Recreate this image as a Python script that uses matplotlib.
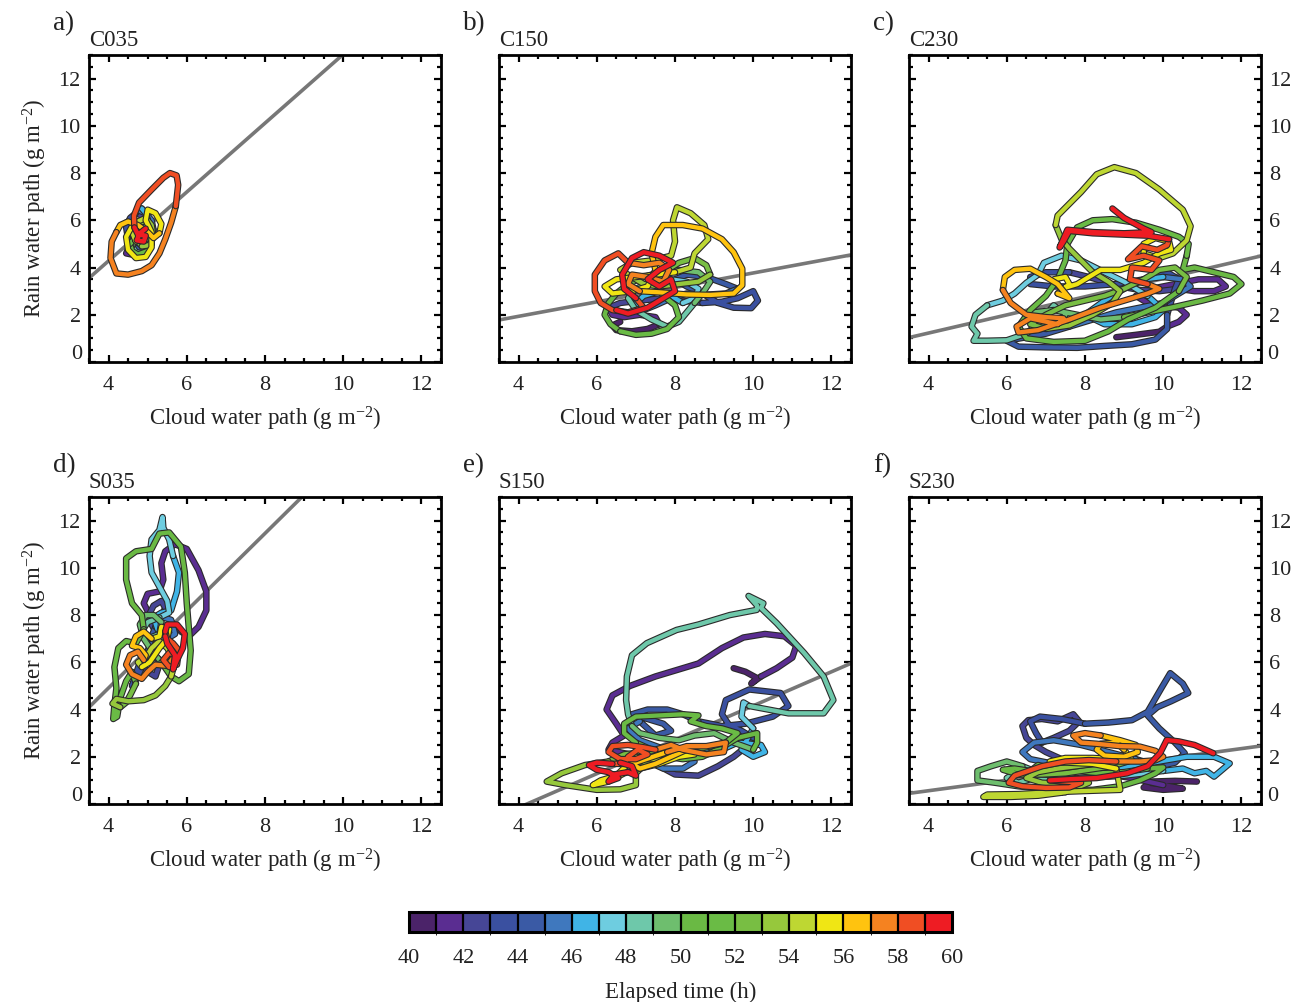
import numpy as np
import matplotlib
matplotlib.use("Agg")
import matplotlib.pyplot as plt
import matplotlib.patheffects as pe
from matplotlib.colors import ListedColormap, BoundaryNorm
from matplotlib.ticker import MultipleLocator

plt.rcParams['font.family'] = ['Liberation Serif', 'DejaVu Serif']
plt.rcParams['mathtext.fontset'] = 'custom'
plt.rcParams['mathtext.rm'] = 'Liberation Serif'
plt.rcParams['mathtext.it'] = 'Liberation Serif:italic'

# ---------------- data ----------------
hour_colors = ['#4B2369', '#5A2D91', '#464696', '#3A50A0', '#3A5AA5', '#3F78BE',
               '#40B4E6', '#6ECDE0', '#6EC8AA', '#6EBE6E', '#6AB944', '#6ABB45',
               '#78BE43', '#96C83C', '#BED732', '#F0E614', '#FFC30F', '#F58220',
               '#F04E23', '#EE1C23']
time_ticks = [40, 42, 44, 46, 48, 50, 52, 54, 56, 58, 60]
panel_tags = ['a)', 'b)', 'c)', 'd)', 'e)', 'f)']
panel_names = ['C035', 'C150', 'C230', 'S035', 'S150', 'S230']
# regression line (slope, intercept) of RWP vs CWP
fit_slope = [1.458, 0.306, 0.384, 1.636, 0.719, 0.223]
fit_icept = [-1.55, 0.71, -0.31, -1.63, -3.03, -0.33]

# trajectories: (hour bin, CWP, RWP)
c035 = [
    (40, 4.75, 5.3), (40, 4.55, 5.6), (40, 4.45, 5.9), (40, 4.6, 6.05), (40, 4.8, 5.9),
    (41, 4.85, 5.6), (41, 4.7, 5.2), (41, 4.5, 4.8), (41, 4.45, 4.6), (41, 4.6, 4.55),
    (42, 4.8, 4.7), (42, 4.95, 5.0), (42, 5.05, 5.4), (42, 5.0, 5.9), (42, 4.85, 6.2),
    (43, 4.7, 6.3), (43, 4.55, 6.1), (43, 4.45, 5.7), (43, 4.5, 5.2),
    (44, 4.6, 4.9), (44, 4.8, 4.75), (44, 5.0, 4.85), (44, 5.1, 5.2),
    (45, 5.15, 5.6), (45, 5.1, 6.0), (45, 4.95, 6.3), (45, 4.8, 6.4),
    (46, 4.85, 6.5), (46, 4.95, 6.3), (46, 5.0, 6.05), (46, 4.9, 5.8),
    (47, 4.75, 5.7), (47, 4.7, 5.45), (47, 4.8, 5.2),
    (48, 4.95, 5.1), (48, 5.05, 4.8), (48, 4.9, 4.6), (48, 4.7, 4.65),
    (49, 4.6, 4.9), (49, 4.65, 5.2), (49, 4.85, 5.35), (49, 5.0, 5.3),
    (50, 5.1, 5.0), (50, 5.0, 4.7), (50, 4.75, 4.55), (50, 4.6, 4.7),
    (51, 4.55, 5.0), (51, 4.7, 5.3), (51, 4.9, 5.5), (51, 5.05, 5.75),
    (52, 5.0, 6.0), (52, 4.8, 5.9), (52, 4.65, 5.6), (52, 4.7, 5.2),
    (53, 4.85, 4.9), (53, 5.05, 4.95), (53, 5.15, 5.3), (53, 5.1, 5.8),
    (54, 4.95, 6.1), (54, 4.75, 5.95), (54, 4.6, 5.5), (54, 4.7, 5.1),
    (55, 4.6, 5.75), (55, 4.45, 5.3), (55, 4.5, 4.75), (55, 4.7, 4.4), (55, 4.95, 4.45),
    (55, 5.1, 4.85), (55, 5.1, 5.5), (55, 4.95, 6.0), (55, 5.0, 6.45), (55, 5.2, 6.3), (55, 5.35, 5.85),
    (56, 5.3, 5.45), (56, 5.15, 5.25), (56, 5.0, 5.5), (56, 4.75, 5.8), (56, 4.5, 5.95), (56, 4.3, 5.8),
    (57, 4.2, 5.5), (57, 4.08, 5.1), (57, 4.05, 4.4), (57, 4.2, 3.75), (57, 4.5, 3.7), (57, 4.85, 3.85),
    (57, 5.1, 4.1), (57, 5.3, 4.6), (57, 5.45, 5.2), (57, 5.6, 5.9),
    (58, 5.72, 6.6), (58, 5.78, 7.5), (58, 5.74, 7.9), (58, 5.57, 8.0), (58, 5.4, 7.8),
    (58, 5.1, 7.3), (58, 4.78, 6.75), (58, 4.65, 6.2),
    (59, 4.66, 5.7), (59, 4.75, 5.4), (59, 4.95, 5.35), (59, 4.9, 5.1), (59, 4.72, 5.15),
    (59, 4.8, 5.45), (59, 4.95, 5.65),
]

c150 = [
    (40, 6.6, 1.7), (40, 6.4, 1.55), (40, 6.5, 1.35), (40, 6.9, 1.3), (40, 7.3, 1.4),
    (41, 7.6, 1.6), (41, 7.5, 1.9), (41, 7.1, 2.0), (41, 6.7, 1.9), (41, 6.4, 2.0),
    (42, 6.3, 2.3), (42, 6.6, 2.5), (42, 7.1, 2.6), (42, 7.7, 2.7), (42, 8.2, 2.6),
    (43, 8.7, 2.5), (43, 9.2, 2.55), (43, 9.6, 2.7), (43, 10.0, 3.0), (43, 10.12, 2.6),
    (43, 9.95, 2.28), (43, 9.5, 2.3), (43, 9.1, 2.5),
    (44, 8.7, 2.9), (44, 8.3, 3.2), (44, 8.0, 3.5), (44, 8.3, 3.7), (44, 8.8, 3.6), (44, 9.3, 3.3),
    (45, 9.6, 3.1), (45, 9.3, 2.9), (45, 8.8, 2.85), (45, 8.3, 2.9), (45, 7.9, 2.7), (45, 7.5, 2.4),
    (46, 7.2, 2.2), (46, 7.0, 2.5), (46, 7.2, 2.8), (46, 7.6, 3.0), (46, 7.9, 2.8),
    (47, 8.2, 2.5), (47, 8.5, 2.7), (47, 8.6, 3.1), (47, 8.3, 3.4), (47, 7.9, 3.5),
    (48, 7.4, 3.4), (48, 7.0, 3.1), (48, 6.8, 2.7), (48, 7.0, 2.2), (48, 7.4, 1.8),
    (48, 7.8, 1.5), (48, 8.1, 1.7), (48, 8.3, 2.1),
    (49, 8.5, 2.5), (49, 8.7, 2.9), (49, 8.9, 3.4), (49, 8.6, 3.8), (49, 8.1, 3.9), (49, 7.6, 3.8),
    (50, 7.2, 3.6), (50, 6.8, 3.3), (50, 6.5, 2.9), (50, 6.3, 2.5), (50, 6.2, 2.0), (50, 6.35, 1.6),
    (51, 6.6, 1.3), (51, 7.0, 1.15), (51, 7.4, 1.2), (51, 7.8, 1.4), (51, 8.1, 1.9), (51, 8.0, 2.4),
    (52, 7.7, 2.8), (52, 7.5, 3.3), (52, 7.7, 3.8), (52, 8.1, 4.2), (52, 8.5, 4.4), (52, 8.8, 4.1),
    (53, 8.9, 3.7), (53, 8.6, 3.4), (53, 8.1, 3.3), (53, 7.6, 3.2), (53, 7.2, 3.3),
    (54, 6.9, 3.6), (54, 6.6, 3.9), (54, 6.9, 4.2), (54, 7.4, 4.3), (54, 7.9, 4.5), (54, 8.0, 5.1),
    (54, 7.95, 6.0), (54, 8.05, 6.55), (54, 8.4, 6.3), (54, 8.75, 5.8), (54, 8.85, 5.2),
    (54, 8.5, 4.6), (54, 8.4, 4.0),
    (55, 8.0, 3.8), (55, 7.5, 3.7), (55, 7.0, 3.6), (55, 6.5, 3.5), (55, 6.2, 3.2),
    (55, 6.4, 2.9), (55, 6.9, 3.0), (55, 7.3, 3.2),
    (56, 7.5, 3.9), (56, 7.4, 4.6), (56, 7.5, 5.3), (56, 7.7, 5.8), (56, 8.2, 5.8), (56, 8.7, 5.65),
    (56, 9.2, 5.2), (56, 9.5, 4.65), (56, 9.72, 3.95), (56, 9.72, 3.25), (56, 9.5, 2.9),
    (56, 8.9, 2.84), (56, 8.3, 2.86), (56, 7.6, 2.95),
    (57, 7.1, 3.0), (57, 6.8, 3.3), (57, 6.9, 3.7), (57, 7.3, 3.6), (57, 7.7, 3.4),
    (57, 7.85, 3.9), (57, 7.6, 4.2), (57, 7.2, 4.1),
    (58, 6.8, 4.2), (58, 6.55, 4.6), (58, 6.2, 4.3), (58, 5.95, 3.7), (58, 5.95, 3.0),
    (58, 6.1, 2.5), (58, 6.4, 2.2), (58, 6.8, 2.1), (58, 7.2, 2.3),
    (59, 7.0, 2.7), (59, 6.7, 3.1), (59, 6.65, 3.7), (59, 6.9, 4.4), (59, 7.2, 4.65),
    (59, 7.6, 4.5), (59, 7.95, 4.2), (59, 7.6, 3.9), (59, 7.3, 3.5), (59, 7.6, 3.2),
    (59, 7.9, 3.5), (59, 8.0, 3.0), (59, 7.7, 2.7), (59, 7.3, 2.3), (59, 6.8, 2.05), (59, 6.5, 2.2),
]

c230 = [
    (40, 8.8, 1.05), (40, 9.3, 1.15), (40, 9.9, 1.28),
    (41, 10.1, 1.5), (41, 10.4, 1.7), (41, 10.6, 2.0), (41, 10.4, 2.3), (41, 10.0, 2.4),
    (41, 9.6, 2.5), (41, 9.3, 2.8), (41, 9.7, 3.1), (41, 10.3, 3.3), (41, 10.9, 3.5),
    (41, 11.4, 3.5), (41, 11.6, 3.2), (41, 11.3, 3.0), (41, 10.8, 3.0),
    (42, 10.4, 3.1), (42, 9.9, 3.0), (42, 9.4, 3.05), (42, 8.9, 3.2), (42, 8.5, 3.4), (42, 8.1, 3.6),
    (43, 7.6, 3.8), (43, 7.0, 3.8), (43, 6.6, 3.6), (43, 6.6, 3.3), (43, 7.2, 3.2), (43, 8.0, 3.2),
    (43, 8.8, 3.3), (43, 9.5, 3.5), (43, 10.1, 3.8), (43, 10.4, 3.5), (43, 10.3, 3.1),
    (44, 10.1, 2.0), (44, 10.1, 1.4), (44, 9.8, 0.95), (44, 9.2, 0.75), (44, 8.5, 0.68),
    (44, 7.8, 0.6), (44, 7.0, 0.62), (44, 6.3, 0.65), (44, 6.0, 0.9), (44, 6.5, 1.05), (44, 7.0, 1.2),
    (45, 7.6, 1.5), (45, 8.2, 1.8), (45, 8.8, 2.1), (45, 9.4, 2.3), (45, 10.0, 2.5),
    (45, 10.3, 2.8), (45, 10.7, 3.2), (45, 10.5, 3.5),
    (46, 10.0, 3.6), (46, 9.5, 3.5), (46, 9.0, 3.1), (46, 8.5, 2.6), (46, 8.0, 2.0),
    (46, 8.5, 1.6), (46, 9.2, 1.6), (46, 9.8, 1.9), (46, 10.0, 2.2),
    (47, 9.6, 2.8), (47, 9.0, 3.4), (47, 8.5, 3.8), (47, 7.9, 4.3), (47, 7.4, 4.5),
    (47, 6.95, 4.2), (47, 6.8, 3.7), (47, 6.5, 3.35), (47, 6.2, 2.9), (47, 5.9, 2.6),
    (48, 5.5, 2.4), (48, 5.2, 2.0), (48, 5.1, 1.5), (48, 5.25, 1.2), (48, 5.15, 0.9),
    (48, 5.5, 0.9), (48, 6.0, 0.92), (48, 6.5, 1.2), (48, 6.9, 1.8), (48, 7.2, 2.4),
    (49, 7.5, 2.0), (49, 7.3, 1.6), (49, 7.0, 1.5), (49, 6.6, 1.7), (49, 6.7, 2.1),
    (49, 7.2, 2.2), (49, 7.8, 2.0), (49, 8.4, 1.8),
    (50, 9.0, 1.9), (50, 9.6, 2.1), (50, 10.2, 2.3), (50, 11.0, 2.6), (50, 11.7, 2.9),
    (50, 12.0, 3.3), (50, 11.8, 3.6), (50, 11.3, 3.8), (50, 10.8, 4.0), (50, 10.5, 3.9),
    (51, 10.6, 4.5), (51, 10.65, 5.0), (51, 10.4, 5.3), (51, 9.9, 5.6), (51, 9.3, 5.9),
    (51, 8.7, 6.05), (51, 8.2, 6.0), (51, 7.8, 5.7), (51, 7.55, 5.0), (51, 7.5, 4.3),
    (51, 7.3, 3.5), (51, 7.0, 2.8), (51, 6.6, 2.2), (51, 6.3, 1.5), (51, 6.5, 1.0),
    (51, 7.2, 0.85), (51, 8.0, 0.9), (51, 8.6, 1.3), (51, 9.1, 1.8), (51, 9.8, 2.3),
    (52, 10.4, 3.0), (52, 10.6, 3.6), (52, 10.3, 4.0), (52, 9.9, 3.9), (52, 9.5, 3.5),
    (52, 9.0, 3.1), (52, 8.5, 2.8), (52, 8.0, 2.6), (52, 7.5, 2.4), (52, 7.0, 2.0), (52, 6.6, 1.6),
    (53, 7.0, 1.4), (53, 7.6, 1.55), (53, 8.2, 2.0), (53, 8.7, 2.5), (53, 8.9, 3.0),
    (53, 8.6, 3.4), (53, 8.2, 3.8), (53, 7.9, 4.3), (53, 7.6, 4.8), (53, 7.4, 5.2),
    (54, 7.25, 5.8), (54, 7.3, 6.2), (54, 7.9, 7.2), (54, 8.3, 7.95), (54, 8.75, 8.25),
    (54, 9.3, 8.0), (54, 9.9, 7.3), (54, 10.5, 6.45), (54, 10.7, 5.75), (54, 10.6, 5.15),
    (54, 10.25, 4.6), (54, 9.9, 4.4),
    (55, 9.5, 4.6), (55, 9.5, 5.0), (55, 9.8, 5.25), (55, 10.15, 5.1), (55, 10.2, 4.75),
    (55, 9.9, 4.6), (55, 9.5, 4.2), (55, 8.9, 3.9), (55, 8.4, 3.9), (55, 8.1, 3.6),
    (55, 7.8, 3.3), (55, 7.4, 3.1), (55, 7.2, 3.5), (55, 7.5, 3.6), (55, 7.6, 3.3),
    (56, 7.3, 2.9), (56, 7.6, 2.7), (56, 7.3, 3.3), (56, 7.0, 3.6), (56, 6.6, 3.95),
    (56, 6.2, 3.9), (56, 5.95, 3.6),
    (57, 5.9, 3.05), (57, 6.1, 2.5), (57, 6.5, 2.0), (57, 7.0, 1.9), (57, 7.45, 1.85),
    (57, 7.3, 1.6), (57, 6.6, 1.85), (57, 6.25, 1.5), (57, 6.3, 1.25), (57, 6.8, 1.35),
    (57, 7.6, 1.8), (57, 8.4, 2.3), (57, 9.1, 2.65), (57, 9.6, 2.9), (57, 9.9, 3.1),
    (58, 9.6, 3.3), (58, 9.15, 3.5), (58, 9.2, 4.0), (58, 9.7, 3.9), (58, 9.9, 4.3),
    (58, 9.5, 4.5), (58, 9.1, 4.35), (58, 9.45, 4.9), (58, 9.85, 4.75), (58, 10.1, 4.95),
    (59, 10.15, 5.2), (59, 9.6, 5.35), (59, 8.9, 5.4), (59, 8.2, 5.45), (59, 7.6, 5.55),
    (59, 7.45, 5.1), (59, 7.35, 4.85), (59, 7.55, 5.6), (59, 8.2, 5.5), (59, 9.0, 5.45),
    (59, 9.7, 5.5), (59, 9.5, 5.65), (59, 9.0, 6.1), (59, 8.7, 6.5),
]

s035 = [
    (40, 5.6, 7.7), (40, 5.75, 7.5), (40, 5.85, 7.3),
    (41, 6.05, 7.1), (41, 6.3, 7.5), (41, 6.5, 8.2), (41, 6.5, 9.0), (41, 6.3, 9.9),
    (41, 6.0, 10.8), (41, 5.7, 11.0), (41, 5.45, 10.7), (41, 5.35, 10.2), (41, 5.4, 9.5),
    (41, 5.3, 9.0), (41, 5.0, 8.9), (41, 4.9, 8.5), (41, 5.05, 8.0), (41, 5.3, 7.8),
    (42, 5.45, 8.3), (42, 5.35, 8.6), (42, 5.15, 8.4), (42, 5.0, 7.9), (42, 5.2, 7.3),
    (42, 5.1, 6.6), (42, 5.3, 5.9), (42, 5.2, 5.4), (42, 5.0, 5.6),
    (43, 4.8, 6.0), (43, 4.7, 5.5), (43, 4.6, 5.0), (43, 4.75, 5.4), (43, 4.95, 6.2), (43, 5.1, 7.0),
    (44, 5.3, 7.6), (44, 5.5, 7.2), (44, 5.6, 6.5), (44, 5.4, 6.0), (44, 5.15, 6.3), (44, 5.05, 6.9),
    (45, 5.2, 7.5), (45, 5.4, 7.9), (45, 5.6, 7.8), (45, 5.7, 7.2),
    (46, 5.5, 7.0), (46, 5.25, 7.4), (46, 5.15, 7.9), (46, 5.35, 8.1), (46, 5.6, 8.2),
    (46, 5.75, 9.0), (46, 5.8, 9.8),
    (47, 5.65, 10.5), (47, 5.55, 11.2), (47, 5.4, 11.7), (47, 5.38, 12.15), (47, 5.3, 11.6),
    (47, 5.1, 11.2), (47, 5.05, 10.5), (47, 5.1, 9.8), (47, 5.3, 9.2), (47, 5.5, 8.6), (47, 5.55, 8.1),
    (48, 5.3, 7.9), (48, 5.0, 7.7), (48, 4.85, 7.3), (48, 5.0, 7.0), (48, 5.3, 7.2),
    (49, 5.35, 7.7), (49, 5.15, 8.0), (49, 4.95, 8.0), (49, 4.8, 7.6), (49, 4.9, 7.0), (49, 5.1, 6.5),
    (50, 5.35, 6.0), (50, 5.6, 5.4), (50, 5.8, 5.2), (50, 6.05, 5.5), (50, 6.1, 6.5),
    (50, 6.05, 7.5), (50, 6.0, 8.5), (50, 5.95, 9.8), (50, 5.85, 10.9), (50, 5.55, 11.5),
    (50, 5.3, 11.45), (50, 5.1, 10.8), (50, 4.7, 10.7), (50, 4.45, 10.4), (50, 4.45, 9.5),
    (50, 4.6, 8.5), (50, 4.85, 8.0),
    (51, 4.9, 7.4), (51, 4.7, 6.8), (51, 4.45, 6.9), (51, 4.25, 6.6), (51, 4.15, 5.8),
    (51, 4.2, 4.9), (51, 4.15, 4.2), (51, 4.12, 3.6), (51, 4.22, 3.7), (51, 4.3, 4.5),
    (51, 4.45, 5.2), (51, 4.6, 5.6),
    (52, 4.7, 5.1), (52, 4.55, 4.6), (52, 4.45, 4.3),
    (53, 4.3, 4.1), (53, 4.1, 4.25), (53, 4.2, 4.45), (53, 4.5, 4.35), (53, 4.9, 4.4),
    (53, 5.2, 4.6), (53, 5.45, 5.0),
    (54, 5.6, 5.4), (54, 5.7, 6.0), (54, 5.5, 6.6), (54, 5.3, 6.9), (54, 5.1, 6.6),
    (54, 4.95, 6.2), (54, 4.75, 6.0),
    (55, 4.85, 5.8), (55, 5.05, 6.0), (55, 5.3, 6.6), (55, 5.5, 7.0), (55, 5.55, 7.4),
    (55, 5.35, 7.5), (55, 5.3, 7.1),
    (56, 5.1, 7.0), (56, 4.9, 7.3), (56, 4.7, 7.1), (56, 4.6, 6.7), (56, 4.8, 6.6), (56, 4.95, 6.3),
    (57, 4.9, 6.1), (57, 4.75, 6.45), (57, 4.55, 6.3), (57, 4.45, 5.9), (57, 4.6, 5.5),
    (57, 4.85, 5.3), (57, 5.0, 5.6), (57, 5.2, 5.9), (57, 5.5, 5.85),
    (58, 5.7, 6.3), (58, 5.55, 6.4), (58, 5.4, 6.1), (58, 5.55, 5.8), (58, 5.75, 5.9),
    (58, 5.8, 6.5), (58, 5.65, 6.8), (58, 5.5, 7.0),
    (59, 5.45, 7.3), (59, 5.5, 7.6), (59, 5.75, 7.6), (59, 5.95, 7.2), (59, 5.9, 6.6),
    (59, 5.75, 6.1), (59, 5.65, 5.7), (59, 5.7, 6.3), (59, 5.5, 6.8), (59, 5.45, 7.1),
]

s150 = [
    (40, 9.5, 5.75), (40, 9.8, 5.6), (40, 10.1, 5.33), (40, 9.95, 5.1),
    (41, 10.2, 5.4), (41, 10.6, 5.75), (41, 11.0, 6.2), (41, 11.1, 6.7), (41, 10.8, 7.1),
    (41, 10.3, 7.2), (41, 9.75, 7.05), (41, 9.2, 6.6), (41, 8.6, 5.95), (41, 7.5, 5.4),
    (41, 6.85, 5.0), (41, 6.4, 4.6), (41, 6.25, 4.0), (41, 6.5, 3.4), (41, 6.7, 2.9),
    (41, 6.4, 2.6), (41, 6.3, 2.3), (41, 6.7, 2.15),
    (42, 7.2, 2.0), (42, 7.6, 1.6), (42, 8.0, 1.25), (42, 8.6, 1.2), (42, 9.1, 1.6),
    (42, 9.5, 2.0), (42, 9.8, 2.4),
    (43, 10.0, 2.8), (43, 9.7, 3.1), (43, 9.4, 3.3), (43, 9.2, 3.8), (43, 9.3, 4.4),
    (43, 9.9, 4.85), (43, 10.7, 4.7), (43, 10.9, 4.15), (43, 10.5, 3.7), (43, 9.8, 3.4), (43, 9.2, 3.3),
    (44, 8.6, 3.5), (44, 8.2, 3.8), (44, 7.8, 4.0), (44, 7.3, 4.0), (44, 6.9, 3.8),
    (44, 7.3, 3.6), (44, 7.7, 3.4), (44, 7.9, 3.1), (44, 7.5, 2.9), (44, 7.3, 3.2),
    (45, 7.1, 3.5), (45, 6.8, 3.2), (45, 7.1, 2.7), (45, 7.6, 2.4), (45, 8.1, 2.2),
    (45, 8.5, 1.8), (45, 8.2, 1.5), (45, 7.7, 1.5), (45, 7.3, 1.8),
    (46, 7.6, 2.0), (46, 8.1, 2.2), (46, 8.7, 2.2), (46, 9.2, 2.3), (46, 9.6, 2.6),
    (46, 10.2, 2.5), (46, 10.3, 2.2), (46, 10.0, 2.0), (46, 9.7, 2.3),
    (47, 10.0, 3.2), (47, 9.7, 3.7), (47, 9.75, 4.3),
    (48, 9.9, 4.15), (48, 10.9, 3.84), (48, 11.8, 3.84), (48, 12.05, 4.4), (48, 11.8, 5.4),
    (48, 11.3, 6.4), (48, 10.6, 7.66), (48, 10.2, 8.3), (48, 10.26, 8.5), (48, 9.88, 8.81),
    (48, 10.1, 8.4), (48, 10.09, 8.22), (48, 9.4, 8.0), (48, 8.6, 7.6), (48, 8.04, 7.37),
    (48, 7.28, 6.81), (48, 6.9, 6.3), (48, 6.77, 5.4), (48, 6.75, 4.4), (48, 6.8, 3.8),
    (49, 6.9, 3.3), (49, 7.1, 3.0), (49, 7.6, 2.8), (49, 8.1, 2.7), (49, 8.5, 2.9),
    (49, 9.0, 3.0), (49, 9.5, 2.6),
    (50, 10.0, 2.3), (50, 10.1, 2.6), (50, 10.1, 3.0), (50, 9.6, 2.8), (50, 9.2, 2.4),
    (50, 8.7, 2.0), (50, 8.2, 1.9), (50, 7.8, 2.0), (50, 7.4, 2.3),
    (51, 7.0, 2.6), (51, 6.7, 3.0), (51, 6.7, 3.4), (51, 7.0, 3.7), (51, 7.6, 3.75),
    (51, 8.2, 3.8), (51, 8.6, 3.75), (51, 8.4, 3.5), (51, 8.8, 3.3), (51, 9.2, 3.2), (51, 9.6, 3.0),
    (52, 9.3, 2.6), (52, 8.8, 2.4), (52, 8.2, 2.2), (52, 7.7, 2.3), (52, 7.2, 2.2), (52, 6.7, 2.1),
    (53, 6.3, 1.8), (53, 5.7, 1.65), (53, 5.1, 1.3), (53, 4.72, 0.95), (53, 5.2, 0.8),
    (53, 6.0, 0.6), (53, 6.6, 0.62), (53, 7.0, 0.8), (53, 7.0, 1.3), (53, 7.3, 1.8),
    (53, 7.7, 2.2), (53, 8.1, 2.1),
    (54, 7.6, 1.9), (54, 7.3, 1.9), (54, 7.0, 2.0),
    (55, 6.8, 1.7), (55, 6.5, 1.2), (55, 6.1, 1.0), (55, 5.9, 0.8), (55, 6.3, 0.95),
    (55, 6.7, 1.3), (55, 7.1, 1.5), (55, 7.6, 1.7), (55, 8.1, 2.0), (55, 8.5, 2.1),
    (56, 8.3, 2.3), (56, 7.9, 2.0), (56, 7.5, 1.7), (56, 7.1, 1.5), (56, 6.9, 1.7),
    (57, 7.8, 2.2), (57, 8.3, 2.45), (57, 8.8, 2.45), (57, 9.3, 2.6), (57, 9.25, 2.2),
    (57, 8.8, 2.1), (57, 8.2, 2.3), (57, 7.9, 2.5),
    (58, 7.5, 2.3), (58, 7.2, 2.4), (58, 6.8, 2.5), (58, 6.4, 2.45), (58, 6.3, 2.2),
    (58, 6.6, 1.9), (58, 7.0, 1.9), (58, 7.3, 2.1), (58, 7.05, 2.3), (58, 6.8, 2.0), (58, 6.7, 1.7),
    (59, 6.4, 1.7), (59, 6.0, 1.75), (59, 5.8, 1.65), (59, 6.0, 1.45), (59, 6.3, 1.35),
    (59, 6.55, 1.1), (59, 6.3, 0.95), (59, 6.45, 1.25), (59, 6.8, 1.35), (59, 7.0, 1.2),
    (59, 6.9, 1.6), (59, 6.6, 1.75),
]

s230 = [
    (40, 10.86, 0.95), (40, 10.3, 0.98), (40, 9.7, 0.95), (40, 9.5, 0.7), (40, 10.0, 0.6), (40, 10.5, 0.65),
    (41, 10.0, 0.8), (41, 9.6, 0.95), (41, 9.2, 1.1), (41, 8.8, 1.2), (41, 8.3, 1.3),
    (42, 7.8, 1.6), (42, 7.4, 1.9), (42, 7.0, 2.2), (42, 6.7, 2.5), (42, 6.5, 2.8),
    (42, 6.4, 3.3), (42, 6.55, 3.55), (42, 6.9, 3.6), (42, 7.3, 3.5), (42, 7.7, 3.8),
    (42, 7.85, 3.5), (42, 7.6, 3.1), (42, 7.2, 2.8),
    (43, 6.9, 2.6), (43, 6.75, 3.0), (43, 6.6, 3.5), (43, 6.85, 3.7), (43, 7.4, 3.6),
    (44, 8.0, 3.4), (44, 8.6, 3.45), (44, 9.2, 3.55), (44, 9.6, 3.9), (44, 9.95, 4.9),
    (44, 10.18, 5.54), (44, 10.5, 5.1), (44, 10.64, 4.7), (44, 10.2, 4.35), (44, 9.85, 4.1),
    (44, 9.6, 3.75), (44, 9.9, 3.2), (44, 10.3, 2.6), (44, 10.55, 2.15), (44, 10.3, 1.75), (44, 9.9, 1.6),
    (45, 9.3, 1.9), (45, 8.6, 2.2), (45, 7.9, 2.5), (45, 7.2, 2.7), (45, 6.7, 2.6),
    (45, 6.4, 2.2), (45, 6.6, 1.9), (45, 7.2, 1.7),
    (46, 8.0, 1.5), (46, 9.0, 1.55), (46, 9.9, 1.8), (46, 10.6, 2.0), (46, 11.3, 2.0),
    (46, 11.7, 1.72), (46, 11.3, 1.16), (46, 11.1, 1.4), (46, 10.8, 1.3), (46, 10.5, 1.5),
    (47, 10.0, 1.4), (47, 9.5, 1.3), (47, 9.0, 1.2), (47, 8.5, 1.15),
    (48, 7.8, 1.1), (48, 7.2, 1.0), (48, 6.6, 1.05), (48, 6.3, 0.9), (48, 6.0, 1.1), (48, 6.2, 1.3), (48, 6.7, 1.4),
    (49, 6.4, 1.6), (49, 6.0, 1.8), (49, 5.6, 1.6), (49, 5.25, 1.4), (49, 5.25, 1.0),
    (49, 5.7, 0.9), (49, 6.3, 0.75), (49, 6.9, 0.65),
    (50, 7.5, 0.6), (50, 8.2, 0.6), (50, 8.9, 0.75), (50, 9.4, 1.0), (50, 9.8, 1.3), (50, 10.0, 1.55),
    (51, 9.6, 1.5), (51, 9.0, 1.35), (51, 8.4, 1.3), (51, 7.8, 1.4), (51, 7.2, 1.5),
    (51, 6.8, 1.65), (51, 6.6, 1.4), (51, 6.2, 1.5), (51, 5.9, 1.45),
    (52, 6.3, 1.25), (52, 6.9, 1.25), (52, 7.5, 1.3), (52, 8.1, 1.45), (52, 8.7, 1.6), (52, 9.1, 1.8),
    (53, 8.6, 1.75), (53, 8.0, 1.65), (53, 7.3, 1.5), (53, 6.8, 1.35), (53, 6.5, 1.1),
    (53, 6.9, 0.9), (53, 7.5, 0.85), (53, 8.1, 0.9),
    (54, 7.5, 0.5), (54, 6.8, 0.35), (54, 6.1, 0.3), (54, 5.4, 0.3), (54, 5.5, 0.4),
    (54, 6.3, 0.42), (54, 7.2, 0.5), (54, 8.0, 0.55), (54, 8.9, 0.6),
    (55, 8.8, 1.5), (55, 8.2, 1.7), (55, 7.6, 1.75), (55, 7.1, 1.8), (55, 7.5, 1.95),
    (55, 8.2, 1.95), (55, 8.8, 1.9), (55, 9.2, 1.85),
    (56, 9.0, 2.3), (56, 8.8, 2.6), (56, 8.4, 2.55), (56, 8.3, 2.3), (56, 8.5, 2.05),
    (56, 9.0, 2.0), (56, 9.35, 2.2), (56, 9.3, 2.5), (56, 8.9, 2.7),
    (57, 8.4, 2.9), (57, 8.0, 3.0), (57, 7.7, 2.9), (57, 7.9, 2.6), (57, 8.3, 2.55),
    (57, 8.9, 2.45), (57, 9.4, 2.43), (57, 9.8, 2.25), (57, 10.0, 2.0), (57, 9.8, 1.85), (57, 9.4, 1.8),
    (58, 8.8, 1.8), (58, 8.1, 1.86), (58, 7.5, 1.8), (58, 6.9, 1.6), (58, 6.2, 1.2),
    (58, 6.05, 0.9), (58, 6.4, 0.75), (58, 7.0, 0.68), (58, 7.6, 0.7), (58, 7.9, 0.9),
    (59, 7.1, 1.0), (59, 7.6, 1.05), (59, 8.3, 1.1), (59, 9.07, 1.3), (59, 9.6, 1.6),
    (59, 9.92, 2.15), (59, 10.09, 2.71), (59, 10.4, 2.65), (59, 10.8, 2.5), (59, 11.28, 2.15),
]
tracks = [c035, c150, c230, s035, s150, s230]

# ---------------- figure ----------------
W, H = 1301, 1002
fig = plt.figure(figsize=(W / 100, H / 100), dpi=100)

cmap = ListedColormap(hour_colors)
norm = BoundaryNorm(np.arange(40, 61), cmap.N)

col_left = [89, 499, 909]
row_top = [55, 497]
ax_w, ax_h = 352, 307

stroke = [pe.Stroke(linewidth=4.7, foreground='#2a2a2a'), pe.Normal()]
TXT = '#222222'
unit = ' (g m$^{-2}$)'


def draw_track(ax, track):
    hrs = [t[0] for t in track]
    xs = [t[1] for t in track]
    ys = [t[2] for t in track]
    n = len(track)
    start = 0
    for i in range(1, n + 1):
        if i == n or hrs[i] != hrs[start]:
            end = min(i + 1, n)
            ax.plot(xs[start:end], ys[start:end], color=cmap(norm(hrs[start])),
                    lw=3.1, solid_joinstyle='round', solid_capstyle='round',
                    path_effects=stroke, zorder=3)
            start = i


for k in range(6):
    r, c = divmod(k, 3)
    left = col_left[c] / W
    bottom = 1 - (row_top[r] + ax_h) / H
    ax = fig.add_axes([left, bottom, ax_w / W, ax_h / H])
    ax.set_xlim(3.5, 12.5)
    ax.set_ylim(0, 13)
    xx = np.array([3.5, 12.5])
    ax.plot(xx, fit_slope[k] * xx + fit_icept[k], color='#777777', lw=2.6, zorder=2,
            solid_capstyle='butt')
    draw_track(ax, tracks[k])

    ax.xaxis.set_minor_locator(MultipleLocator(0.5))
    ax.yaxis.set_minor_locator(MultipleLocator(0.5))
    ax.set_xticks([4, 6, 8, 10, 12])
    ax.set_yticks([0, 2, 4, 6, 8, 10, 12])
    ax.tick_params(which='both', direction='in', top=True, right=True, width=1.6,
                   colors='black', labelcolor=TXT)
    ax.tick_params(which='major', length=5, labelsize=16)
    ax.tick_params(which='minor', length=2.8)
    ax.tick_params(axis='x', pad=10)
    ax.tick_params(axis='y', pad=6)
    for sp in ax.spines.values():
        sp.set_linewidth(2.0)

    ylabels = ['', '2', '4', '6', '8', '10', '12']
    if c == 0:
        ax.set_yticklabels(ylabels)
        ax.annotate('0', xy=(0, 0), xycoords=('axes fraction', 'data'),
                    xytext=(-4.5, 5.5), textcoords='offset points',
                    ha='right', va='center', fontsize=16, color=TXT)
        ax.set_ylabel('Rain water path' + unit, fontsize=16.5, color=TXT, labelpad=7)
    elif c == 2:
        ax.tick_params(axis='y', labelleft=False, labelright=True)
        ax.set_yticklabels(ylabels)
        ax.annotate('0', xy=(1, 0), xycoords=('axes fraction', 'data'),
                    xytext=(4.5, 5.5), textcoords='offset points',
                    ha='left', va='center', fontsize=16, color=TXT)
    else:
        ax.tick_params(axis='y', labelleft=False)

    ax.set_xlabel('Cloud water path' + unit, fontsize=16.5, color=TXT, labelpad=7)
    ax.text(0.0, 1.012, panel_names[k], transform=ax.transAxes, ha='left',
            va='bottom', fontsize=16.5, color=TXT)
    ax.text(-0.103, 1.06, panel_tags[k], transform=ax.transAxes, ha='left',
            va='bottom', fontsize=19.5, color=TXT)

# colour bar
cax = fig.add_axes([409 / W, 1 - 932 / H, 543 / W, 20 / H])
sm = plt.cm.ScalarMappable(cmap=cmap, norm=norm)
cb = fig.colorbar(sm, cax=cax, orientation='horizontal', drawedges=True,
                  ticks=time_ticks)
cb.outline.set_linewidth(2.2)
cb.dividers.set_color('black')
cb.dividers.set_linewidth(1.6)
cax.tick_params(length=0, labelsize=16, pad=12, labelcolor=TXT)
cb.set_label('Elapsed time (h)', fontsize=16.5, color=TXT, labelpad=10)

fig.savefig('out.png', dpi=100)
